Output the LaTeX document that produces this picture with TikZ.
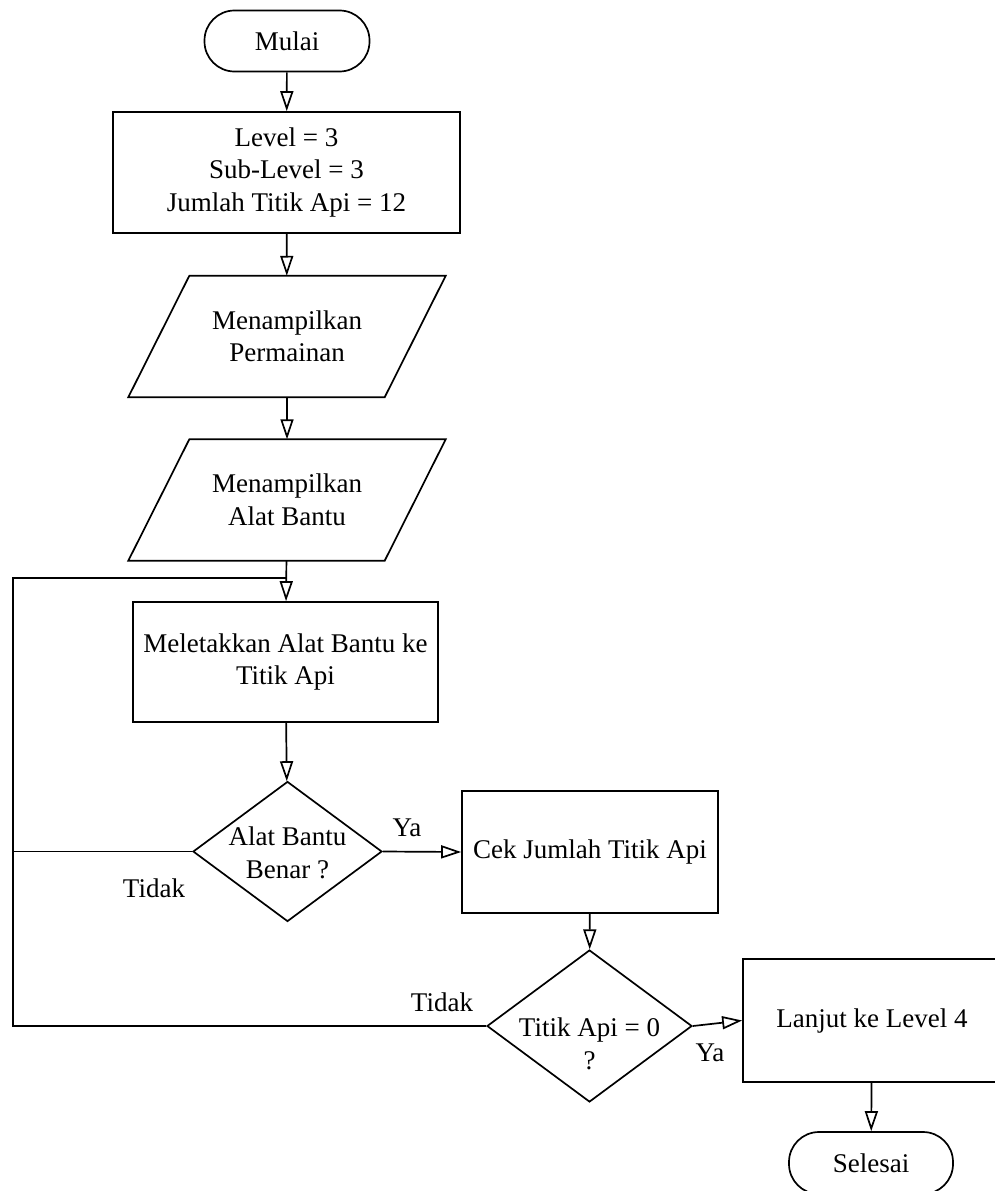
\documentclass[tikz,border=0pt]{standalone}
\usepackage{fontspec}
\setmainfont{Liberation Serif}
\usetikzlibrary{arrows.meta,shapes.geometric}

\begin{document}
\begin{tikzpicture}[x=1pt,y=-1pt,
  every node/.style={font=\fontsize{27}{32.5}\selectfont, inner sep=0pt},
  ln/.style={line width=1.7pt},
  arr/.style={ln, -{Triangle[length=20pt,width=13pt,fill=white]}},
  term/.style={draw, ln, rectangle, rounded corners=30pt, minimum height=61pt},
  proc/.style={draw, ln, rectangle, align=center},
  iobox/.style={rectangle, align=center, minimum width=256pt, minimum height=121pt},
  dec/.style={draw, ln, diamond, aspect=1},
  lbl/.style={}
]
\useasboundingbox (0,0) rectangle (994,1191);

% terminators and process boxes
\node[term, minimum width=165pt] (start) at (287,41) {Mulai};
\node[proc, minimum width=347pt, minimum height=121pt] (init) at (286.5,172.5)
  {Level = 3\\Sub-Level = 3\\Jumlah Titik Api = 12};

% input/output parallelograms
\node[iobox] (p1) at (287,336.5) {Menampilkan\\Permainan};
\node[iobox] (p2) at (287,500) {Menampilkan\\Alat Bantu};
\foreach \p in {p1,p2}{
  \draw[ln] ([xshift=30.5pt]\p.north west) -- ([xshift=30.5pt]\p.north east)
    -- ([xshift=-30.5pt]\p.south east) -- ([xshift=-30.5pt]\p.south west) -- cycle;
}

\node[proc, minimum width=305pt, minimum height=120pt] (place) at (285.5,662)
  {Meletakkan Alat Bantu ke\\Titik Api};

% first decision
\node[dec, minimum width=189pt, minimum height=140pt] (d1) at (287.5,851.5) {};
\node[align=center] (d1t) at (287.5,853) {Alat Bantu\\Benar ?};

\node[proc, minimum width=256pt, minimum height=122pt] (check) at (590,852)
  {Cek Jumlah Titik Api};

% second decision
\node[dec, minimum width=205pt, minimum height=152pt] (d2) at (589.5,1026) {};
\node[align=center] (d2t) at (589.5,1044) {Titik Api = 0\\?};

\node[proc, minimum width=258pt, minimum height=123pt] (next) at (872,1020.5)
  {Lanjut ke Level 4};
\node[term, minimum width=164pt, minimum height=62pt] (finish) at (871,1163) {Selesai};

% branch labels
\node[lbl] (ya1) at (407,828) {Ya};
\node[lbl] (tidak1) at (154,888) {Tidak};
\node[lbl] (tidak2) at (442,1002) {Tidak};
\node[lbl] (ya2) at (710,1053) {Ya};

% main flow
\draw[arr] (start) -- (init);
\draw[arr] (init) -- (p1);
\draw[arr] (p1) -- (p2);
\draw[arr] (p2) -- (place);
\draw[arr] (place) -- (d1);
\draw[arr] (d1.east) -- (check.west);
\draw[arr] (check) -- (d2);
\draw[arr] (d2.east) -- (next.west);
\draw[arr] (next) -- (finish);

% loop back for the "Tidak" branches
\coordinate (lb) at (13,1026);
\coordinate (lj) at (287,578);
\draw[ln] (d2.west) -- (d2.west -| lb) |- (lj);
\draw[ln] (d1.west) -- (d1.west -| lb);
\end{tikzpicture}
\end{document}
